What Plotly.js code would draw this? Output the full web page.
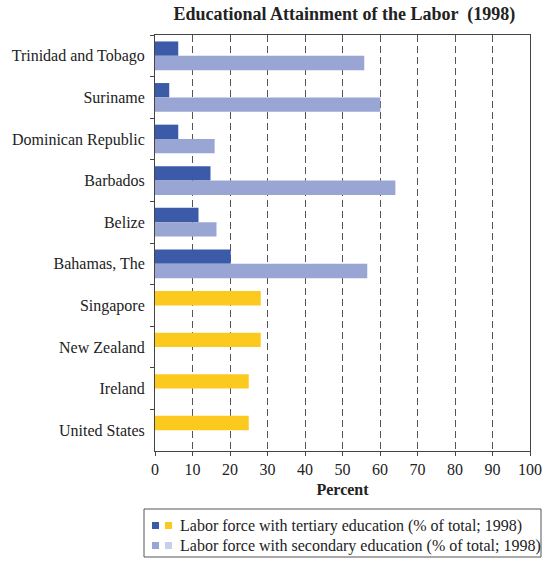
<!DOCTYPE html>
<html><head><meta charset="utf-8">
<script src="https://cdn.plot.ly/plotly-3.0.1.min.js"></script>
<style>html,body{margin:0;padding:0;background:#fff}</style>
</head><body>
<div id="chart" style="width:545px;height:561px"></div>
<script>
const countries = ["Trinidad and Tobago","Suriname","Dominican Republic","Barbados","Belize","Bahamas, The","Singapore","New Zealand","Ireland","United States"];
const tertiary = [6.2, 3.8, 6.2, 14.8, 11.6, 20.2, 28.2, 28.2, 25.0, 25.0];
const secondary = [55.8, 60.1, 15.9, 64.1, 16.4, 56.6, null, null, null, null];
const tertiaryColors = ["#3b5ba8","#3b5ba8","#3b5ba8","#3b5ba8","#3b5ba8","#3b5ba8","#fcc91f","#fcc91f","#fcc91f","#fcc91f"];
const secondaryColors = ["#99a5d3","#99a5d3","#99a5d3","#99a5d3","#99a5d3","#99a5d3","#c9cfe9","#c9cfe9","#c9cfe9","#c9cfe9"];
const legendLabels = ["Labor force with tertiary education (% of total; 1998)","Labor force with secondary education (% of total; 1998)"];
const xTicks = [0,10,20,30,40,50,60,70,80,90,100];

const font = "Liberation Serif, Times New Roman, serif";
const traces = [
  {type:"bar", orientation:"h", y:countries, x:tertiary, name:legendLabels[0], marker:{color:tertiaryColors}, hoverinfo:"x+y"},
  {type:"bar", orientation:"h", y:countries, x:secondary, name:legendLabels[1], marker:{color:secondaryColors}, hoverinfo:"x+y"}
];
const legendShapes = [];
const legendAnn = [];
// legend box (paper coords), drawn manually to show two swatches per entry
const px = (v)=> (v-155)/375, py = (v)=> (451-v)/416;
legendShapes.push({type:"rect", xref:"paper", yref:"paper", x0:px(144), x1:px(541), y0:py(509), y1:py(557), line:{color:"#555", width:1}, fillcolor:"rgba(0,0,0,0)"});
const rowsY = [525.5, 545.5];
const swatch = [[tertiaryColors[0], tertiaryColors[9]], [secondaryColors[0], secondaryColors[9]]];
rowsY.forEach((yy, i) => {
  [152, 165].forEach((xx, j) => {
    legendShapes.push({type:"rect", xref:"paper", yref:"paper", x0:px(xx), x1:px(xx+7), y0:py(yy+3.5), y1:py(yy-3.5), line:{width:0}, fillcolor:swatch[i][j]});
  });
  legendAnn.push({xref:"paper", yref:"paper", x:px(178), y:py(yy), xanchor:"left", yanchor:"middle", text:legendLabels[i], showarrow:false, font:{family:font, size:16, color:"#222"}});
});

const layout = {
  width:545, height:561,
  margin:{l:155, r:15, t:35, b:110},
  paper_bgcolor:"#fff", plot_bgcolor:"#fff",
  barmode:"group", bargap:0.31, bargroupgap:0,
  showlegend:false,
  title:{text:"<b>Educational Attainment of the Labor  (1998)</b>", x:0.632, xanchor:"center", y:0.975, yanchor:"middle", font:{family:font, size:18, color:"#222"}},
  xaxis:{range:[0,100], tickvals:xTicks, ticktext:xTicks.map(String), showgrid:true, gridcolor:"#555", griddash:"7px,4px", gridwidth:1,
    zeroline:false, showline:true, mirror:true, linecolor:"#444", linewidth:1, ticks:"outside", ticklen:4, tickcolor:"#444",
    tickfont:{family:font, size:16, color:"#222"},
    title:{text:"<b>Percent</b>", font:{family:font, size:16, color:"#222"}, standoff:6}},
  yaxis:{autorange:"reversed", type:"category", tickson:"boundaries", ticks:"outside", ticklen:4, tickcolor:"#444",
    showline:true, mirror:true, linecolor:"#444", linewidth:1, showgrid:false, zeroline:false, ticklabelstandoff:6,
    tickfont:{family:font, size:16, color:"#222"}},
  shapes:legendShapes,
  annotations:legendAnn,
  font:{family:font}
};
Plotly.newPlot("chart", traces, layout, {displayModeBar:false, staticPlot:true});
</script>
</body></html>
